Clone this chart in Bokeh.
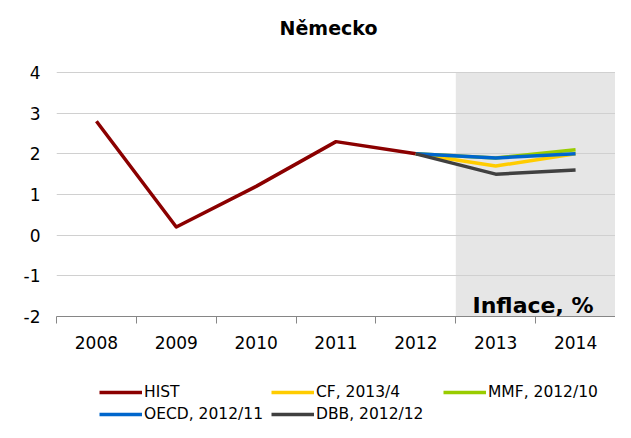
from bokeh.plotting import figure
from bokeh.layouts import column
from bokeh.models import Range1d, FixedTicker, BoxAnnotation, Label, Legend, LegendItem
from bokeh.embed import file_html
from bokeh.resources import INLINE

# ---- data ----
title_text = "Německo"
years_hist = [2008, 2009, 2010, 2011, 2012]
hist = [2.8, 0.2, 1.2, 2.3, 2.0]
years_fc = [2012, 2013, 2014]
cf = [2.0, 1.7, 2.0]
mmf = [2.0, 1.9, 2.1]
oecd = [2.0, 1.9, 2.0]
dbb = [2.0, 1.5, 1.6]
x_ticks = [2008, 2009, 2010, 2011, 2012, 2013, 2014]
y_ticks = [-2, -1, 0, 1, 2, 3, 4]
forecast_start = 2012.5
series_names = ["HIST", "CF, 2013/4", "MMF, 2012/10", "OECD, 2012/11", "DBB, 2012/12"]
series_colors = ["#8B0000", "#FFCC00", "#99CC00", "#0066CC", "#404040"]
note_text = "Inflace, %"

# ---- layout constants (pixels) ----
FONT = "DejaVu Sans"
W = 615
CHART_H = 362
LEG_H = 60
FRAME_L = 56
PLOT_TOP = 72       # where the value 4 sits
PLOT_BOTTOM = 316   # where the value -2 sits (frame bottom)
TITLE_CY = 27
TITLE_CX = 328

y_lo, y_hi = y_ticks[0], y_ticks[-1]
px_per_unit_y = (PLOT_BOTTOM - PLOT_TOP) / (y_hi - y_lo)
y_top = y_hi + PLOT_TOP / px_per_unit_y
x_lo, x_hi = x_ticks[0] - 0.5, x_ticks[-1] + 0.5
px_per_unit_x = (W - FRAME_L) / (x_hi - x_lo)

p = figure(width=W, height=CHART_H, output_backend="svg", toolbar_location=None,
           title=None,
           x_range=Range1d(x_lo, x_hi), y_range=Range1d(y_lo, y_top),
           min_border_left=FRAME_L, min_border_right=0, min_border_top=0,
           min_border_bottom=CHART_H - PLOT_BOTTOM)
p.outline_line_color = None
p.background_fill_color = "white"
p.border_fill_color = "white"

# forecast band
band = BoxAnnotation(left=forecast_start, bottom=y_lo, top=y_hi,
                     fill_color="#e6e6e6", fill_alpha=1.0,
                     line_color=None, level="image")
p.add_layout(band)

# axes
p.yaxis.ticker = FixedTicker(ticks=y_ticks)
p.yaxis.major_label_overrides = {t: str(t) for t in y_ticks}
p.yaxis.axis_line_color = None
p.yaxis.major_tick_line_color = None
p.yaxis.minor_tick_line_color = None
p.yaxis.major_tick_out = 0
p.yaxis.major_tick_in = 0
p.yaxis.major_label_standoff = 16
p.yaxis.major_label_text_font = FONT
p.yaxis.major_label_text_font_size = "17px"
p.yaxis.major_label_text_color = "black"

p.xaxis.ticker = FixedTicker(ticks=x_ticks,
                             minor_ticks=[t - 0.5 for t in x_ticks] + [x_ticks[-1] + 0.5])
p.xaxis.major_label_overrides = {t: str(t) for t in x_ticks}
p.xaxis.major_tick_line_color = None
p.xaxis.major_tick_out = 0
p.xaxis.major_tick_in = 0
p.xaxis.minor_tick_out = 7
p.xaxis.minor_tick_in = 0
p.xaxis.minor_tick_line_color = "#868686"
p.xaxis.axis_line_color = "#868686"
p.xaxis.major_label_standoff = 12
p.xaxis.major_label_text_font = FONT
p.xaxis.major_label_text_font_size = "17px"
p.xaxis.major_label_text_color = "black"

p.xgrid.visible = False
p.ygrid.grid_line_color = "#d0d0d0"
p.ygrid.grid_line_width = 1

# lines
series_x = [years_hist, years_fc, years_fc, years_fc, years_fc]
series_y = [hist, cf, mmf, oecd, dbb]
for xs, ys, c in zip(series_x, series_y, series_colors):
    p.line(xs, ys, line_color=c, line_width=3.5, line_join="round")

# title
title = Label(x=x_lo + (TITLE_CX - FRAME_L) / px_per_unit_x,
              y=y_hi + (PLOT_TOP - TITLE_CY) / px_per_unit_y,
              text=title_text, text_align="center", text_baseline="middle",
              text_font=FONT, text_font_size="19px", text_font_style="bold",
              text_color="black")
p.add_layout(title)

note = Label(x=x_hi - 22 / px_per_unit_x, y=y_lo + 11 / px_per_unit_y, text=note_text,
             text_align="right", text_baseline="alphabetic",
             text_font=FONT, text_font_size="22px", text_font_style="bold",
             text_color="black")
p.add_layout(note)

# legend strip under the chart; its lines carry the same series but lie outside its view
q = figure(width=W, height=LEG_H, output_backend="svg", toolbar_location=None,
           title=None, x_range=Range1d(0, 1), y_range=Range1d(0, 1),
           x_axis_type=None, y_axis_type=None,
           min_border_left=FRAME_L, min_border_right=0, min_border_top=0, min_border_bottom=0)
q.outline_line_color = None
q.grid.visible = False
q.background_fill_color = "white"
q.border_fill_color = "white"
leg_renderers = [q.line(xs, ys, line_color=c, line_width=3.5)
                 for xs, ys, c in zip(series_x, series_y, series_colors)]

legend = Legend(items=[LegendItem(label=n, renderers=[r]) for n, r in zip(series_names, leg_renderers)],
                ncols=3, orientation="horizontal", location=(43, -3),
                glyph_width=43, glyph_height=22, label_width=127, label_height=22,
                spacing=0, label_standoff=2, padding=0, margin=0,
                border_line_color=None, background_fill_alpha=0,
                label_text_font=FONT, label_text_font_size="15.5px",
                label_text_color="black")
q.add_layout(legend, "center")

layout = column(p, q, spacing=0)
open("out.html", "w").write(file_html(layout, INLINE))
